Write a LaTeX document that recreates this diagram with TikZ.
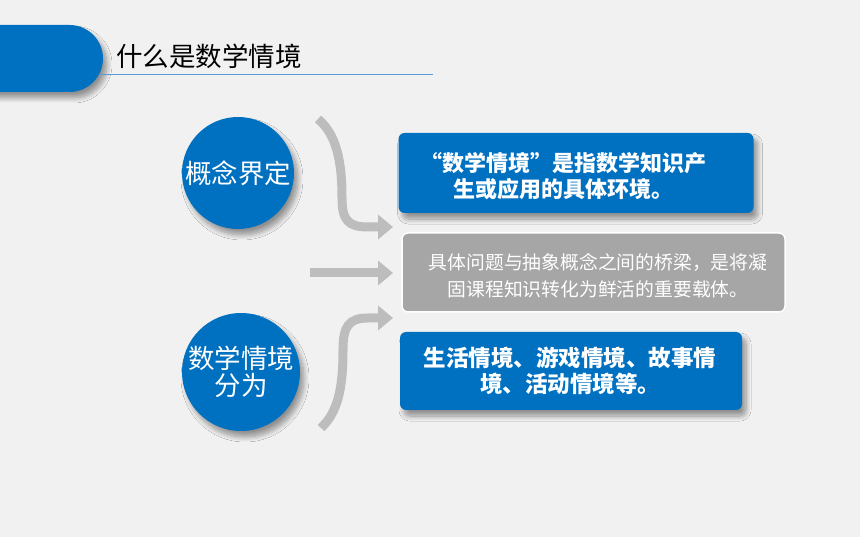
\documentclass[tikz,border=0pt]{standalone}
\usepackage{fontspec}
\newfontfamily\cjk{Noto Sans CJK SC}
\usetikzlibrary{arrows.meta,shadows.blur}
\definecolor{bg}{HTML}{F1F1F1}
\definecolor{mblue}{HTML}{0070C0}
\definecolor{lineblue}{HTML}{5B9BD5}
\definecolor{arrowgray}{HTML}{BDBDBD}
\definecolor{boxgray}{HTML}{A6A6A6}
\tikzset{
  softshadow/.style={blur shadow={shadow xshift=4pt, shadow yshift=-6pt, shadow blur radius=5pt, shadow blur steps=10, shadow opacity=40}},
  circ/.style={circle, fill=mblue, minimum size=112pt, inner sep=0pt, text=white, align=center,
     font=\cjk\fontsize{26.5}{30}\selectfont, softshadow},
  bluebox/.style={rectangle, rounded corners=6pt, fill=mblue, inner sep=0pt, softshadow},
  graybox/.style={rectangle, rounded corners=6pt, fill=boxgray, draw=white, line width=1.5pt, inner sep=0pt},
  boxtext/.style={text=white, align=center, inner sep=0pt},
  garrow/.style={draw=arrowgray, line width=9pt, -{Triangle[length=15pt,width=24pt]}},
}
\begin{document}
\begin{tikzpicture}[x=1pt,y=-1pt]
\useasboundingbox (0,0) rectangle (860,537);
\clip (0,0) rectangle (860,537);
\fill[bg] (0,0) rectangle (860,537);
% header pill
\fill[mblue, softshadow, rounded corners=33.5pt] (-60,25) rectangle (103,92);
\draw[lineblue, line width=0.8pt] (100,74) -- (433,74);
\node[anchor=base west, font=\cjk\fontsize{26.5}{30}\selectfont, text=black, inner sep=0pt] (title) at (116,67) {什么是数学情境};
% circles
\node[circ] (c1) at (238,173) {概念界定};
\node[circ] (c2) at (241,372) {数学情境\\[-3pt]分为};
% boxes
\node[bluebox, minimum width=355pt, minimum height=80pt] (b1) at (576,173) {};
\node[boxtext, font=\cjk\bfseries\fontsize{22}{26}\selectfont] (t1) at (563,176) {“数学情境”是指数学知识产\\生或应用的具体环境。};
\node[graybox, minimum width=383pt, minimum height=79pt] (b2) at (593.5,272.5) {};
\node[boxtext, font=\cjk\fontsize{18.8}{27}\selectfont] (t2) at (598,276) {具体问题与抽象概念之间的桥梁，是将凝\\固课程知识转化为鲜活的重要载体。};
\node[bluebox, minimum width=342pt, minimum height=78pt] (b3) at (571,371) {};
\node[boxtext, font=\cjk\bfseries\fontsize{22.5}{26}\selectfont] (t3) at (570,371) {生活情境、游戏情境、故事情\\境、活动情境等。};
% arrows
\coordinate (a1s) at (318,119);
\coordinate (a1e) at (393,227);
\coordinate (a2s) at (310,273);
\coordinate (a2e) at (393,273);
\coordinate (a3s) at (321,428);
\coordinate (a3e) at (393,318);
\draw[garrow] (a1s) .. controls (336,134) and (342,160) .. (342,198) .. controls (342,220) and (348,227) .. (368,227) -- (a1e);
\draw[garrow] (a2s) -- (a2e);
\draw[garrow] (a3s) .. controls (338,412) and (343,388) .. (343,350) .. controls (343,326) and (349,318) .. (368,318) -- (a3e);
\end{tikzpicture}
\end{document}
